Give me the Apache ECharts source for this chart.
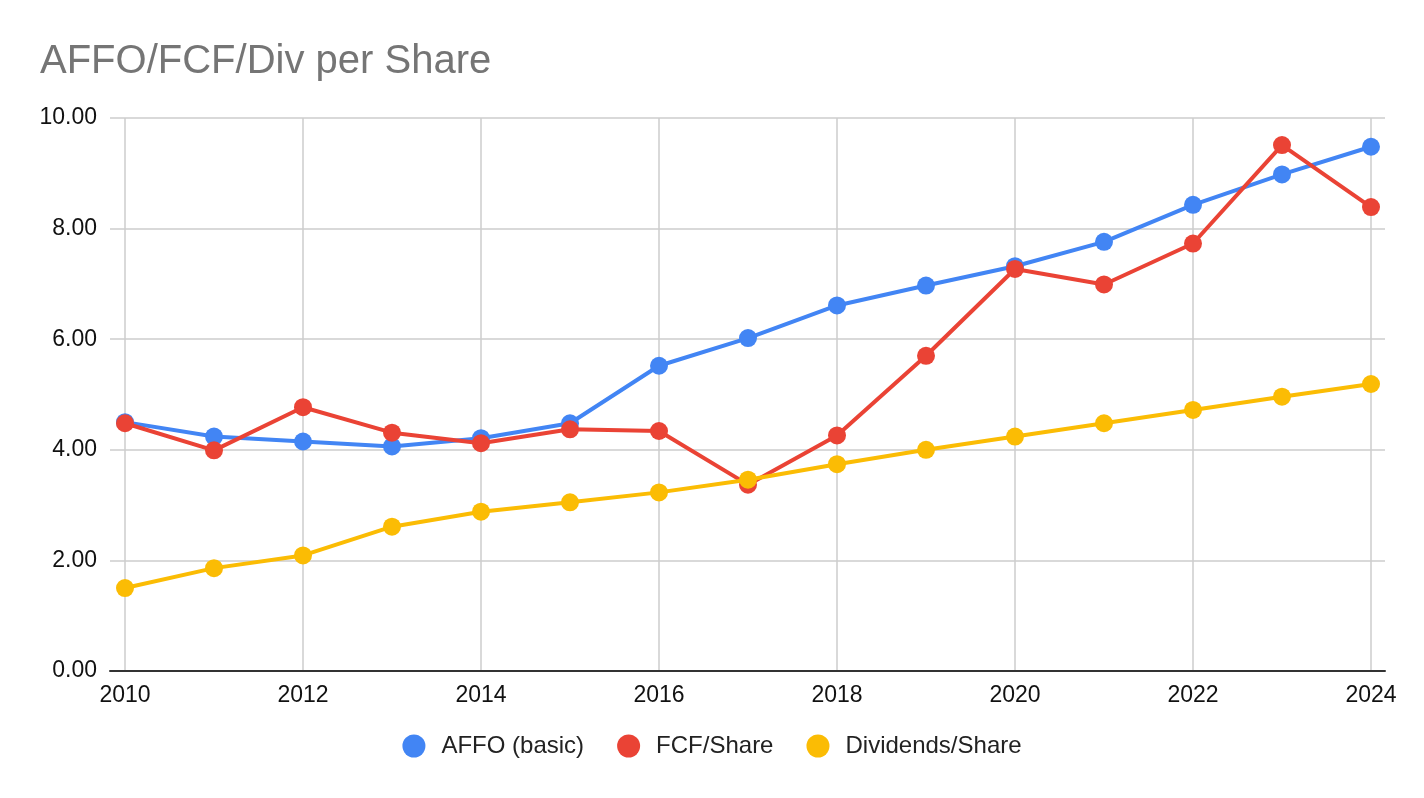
<!DOCTYPE html>
<html>
<head>
<meta charset="utf-8">
<script src="https://cdn.jsdelivr.net/npm/echarts@6/dist/echarts.min.js"></script>
<style>
  html, body { margin: 0; padding: 0; background: #fff; }
  #main { width: 1424px; height: 798px; }
</style>
</head>
<body>
<div id="main"></div>
<script>
// values
const years = [2010, 2011, 2012, 2013, 2014, 2015, 2016, 2017, 2018, 2019, 2020, 2021, 2022, 2023, 2024]
const affo = [4.50, 4.24, 4.15, 4.06, 4.21, 4.48, 5.52, 6.02, 6.61, 6.97, 7.32, 7.76, 8.43, 8.98, 9.48]
const fcf = [4.48, 3.99, 4.77, 4.31, 4.12, 4.37, 4.34, 3.37, 4.26, 5.70, 7.27, 6.99, 7.73, 9.51, 8.39]
const divs = [1.50, 1.86, 2.09, 2.61, 2.88, 3.05, 3.23, 3.46, 3.74, 4.00, 4.24, 4.48, 4.72, 4.96, 5.19]
const seriesNames = ['AFFO (basic)', 'FCF/Share', 'Dividends/Share']
const seriesColors = ['#4285F4', '#EA4335', '#FBBC04']

const font = 'Arial, "Liberation Sans", sans-serif'

function pairs(vals) {
  return years.map((y, i) => [y, vals[i]])
}

const chart = echarts.init(document.getElementById('main'))

const option = {
  animation: false,
  backgroundColor: '#ffffff',
  title: {
    text: 'AFFO/FCF/Div per Share',
    left: 40,
    top: 42,
    padding: 0,
    textStyle: {
      color: '#757575',
      fontSize: 40,
      fontWeight: 'normal',
      fontFamily: font
    }
  },
  legend: {
    data: seriesNames,
    left: 'center',
    top: 729,
    icon: 'circle',
    itemWidth: 23,
    itemHeight: 23,
    itemGap: 33,
    textStyle: {
      color: '#222222',
      fontSize: 24,
      fontFamily: font,
      padding: [0, 0, 0, 11]
    }
  },
  // grid 0: background gridlines (slightly wider than the plot), grid 1: the data
  grid: [
    { left: 110, right: 39, top: 118, bottom: 127 },
    { left: 125, right: 53, top: 118, bottom: 127 }
  ],
  xAxis: [
    {
      gridIndex: 0,
      type: 'value',
      min: 0,
      max: 1,
      axisLabel: { show: false },
      axisTick: { show: false },
      splitLine: { show: false },
      axisLine: { show: true, lineStyle: { color: '#333333', width: 2 } },
      z: 3
    },
    {
      gridIndex: 1,
      type: 'value',
      min: 2010,
      max: 2024,
      interval: 2,
      axisLine: { show: false },
      axisTick: { show: false },
      splitLine: { show: true, lineStyle: { color: '#cccccc', width: 1.5 } },
      axisLabel: {
        margin: 13,
        color: '#111111',
        fontSize: 23,
        fontFamily: font,
        formatter: v => String(v)
      }
    }
  ],
  yAxis: [
    {
      gridIndex: 0,
      type: 'value',
      min: 0,
      max: 10,
      interval: 2,
      axisLine: { show: false },
      axisTick: { show: false },
      splitLine: { show: true, lineStyle: { color: '#cccccc', width: 1.5 } },
      axisLabel: {
        margin: 13,
        color: '#111111',
        fontSize: 23,
        fontFamily: font,
        formatter: v => v.toFixed(2)
      }
    },
    {
      gridIndex: 1,
      type: 'value',
      min: 0,
      max: 10,
      show: false
    }
  ],
  series: [affo, fcf, divs].map((vals, i) => ({
    name: seriesNames[i],
    type: 'line',
    xAxisIndex: 1,
    yAxisIndex: 1,
    data: pairs(vals),
    symbol: 'circle',
    symbolSize: 18,
    color: seriesColors[i],
    lineStyle: { width: 4, color: seriesColors[i] },
    itemStyle: { color: seriesColors[i] },
    z: 5 + i
  }))
}

chart.setOption(option)
</script>
</body>
</html>
